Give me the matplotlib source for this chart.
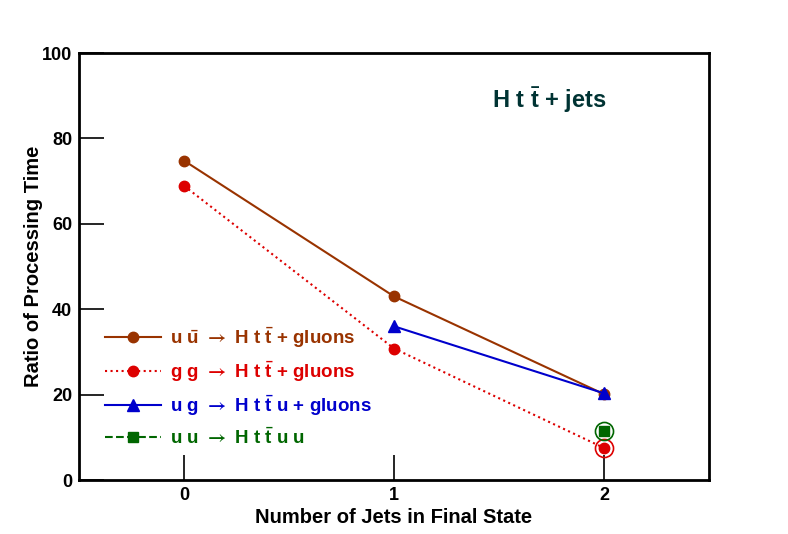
import matplotlib
matplotlib.use("Agg")
import matplotlib.pyplot as plt

plt.rcParams['font.family'] = ['Liberation Sans', 'DejaVu Sans']
plt.rcParams['font.weight'] = 'bold'
plt.rcParams['mathtext.fontset'] = 'custom'
plt.rcParams['mathtext.rm'] = 'STIXGeneral'
plt.rcParams['mathtext.bf'] = 'Liberation Sans:bold'

# number of jets and ratio of processing time
jets_uubar = [0, 1, 2]
ratio_uubar = [74.8, 43.0, 20.1]
jets_gg = [0, 1, 2]
ratio_gg = [68.9, 30.8, 7.5]
jets_ug = [1, 2]
ratio_ug = [36.0, 20.3]
jets_uu = [2]
ratio_uu = [11.4]

tbar = r'$\bar{\mathbf{t}}$'
ubar = r'$\bar{\mathbf{u}}$'
arrow = r'$\rightarrow$'
labels = [
    'u ' + ubar + ' ' + arrow + ' H t ' + tbar + ' + gluons',
    'g g ' + arrow + ' H t ' + tbar + ' + gluons',
    'u g ' + arrow + ' H t ' + tbar + ' u + gluons',
    'u u ' + arrow + ' H t ' + tbar + ' u u',
]
colors = ['#993300', '#dd0000', '#0000cc', '#006600']

fig = plt.figure(figsize=(7.88, 5.34), dpi=100)
ax = fig.add_axes([0.1003, 0.1011, 0.7995, 0.7996])

ax.plot(jets_uubar, ratio_uubar, '-', marker='o', color=colors[0], lw=1.5, ms=7.5, label=labels[0])
ax.plot(jets_gg, ratio_gg, ':', marker='o', color=colors[1], lw=1.5, ms=7.5, label=labels[1])
ax.plot(jets_ug, ratio_ug, '-', marker='^', color=colors[2], lw=1.5, ms=8.5, label=labels[2])
ax.plot(jets_uu, ratio_uu, '--', marker='s', color=colors[3], lw=1.5, ms=6.5, label=labels[3])

# open circles highlighting the last points
ax.plot(jets_gg[-1:], ratio_gg[-1:], 'o', mfc='none', mec=colors[1], mew=1.2, ms=13)
ax.plot(jets_uu, ratio_uu, 'o', mfc='none', mec=colors[3], mew=1.2, ms=13)

ax.set_xlim(-0.5, 2.5)
ax.set_ylim(0, 100)
ax.set_xticks([0, 1, 2])
ax.set_yticks([0, 20, 40, 60, 80, 100])
ax.tick_params(direction='in', length=18, width=1.2, labelsize=13, pad=5,
               top=False, right=False)
for s in ax.spines.values():
    s.set_linewidth(2)
ax.set_xlabel('Number of Jets in Final State', fontsize=14.5, fontweight='bold', labelpad=3)
ax.set_ylabel('Ratio of Processing Time', fontsize=14.5, fontweight='bold', labelpad=-1)

ax.text(1.74, 89, 'H t ' + tbar + ' + jets', color='#003333', fontsize=17,
        ha='center', va='center')

leg = ax.legend(loc='upper left', bbox_to_anchor=(0.041, 0.363), frameon=False,
                fontsize=13.5, handlelength=3.0, labelspacing=0.5, handletextpad=0.5,
                borderaxespad=0, borderpad=0)
for t, c in zip(leg.get_texts(), colors):
    t.set_color(c)

fig.savefig('out.png', dpi=100)
